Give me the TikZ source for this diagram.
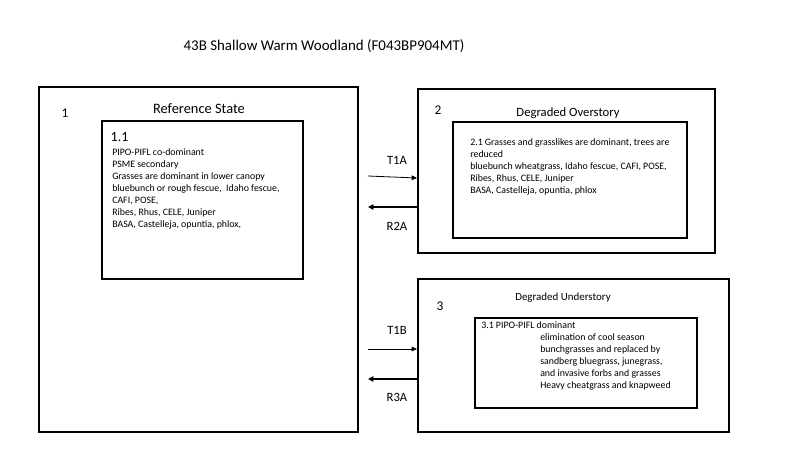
\documentclass[tikz,border=0pt]{standalone}
\usepackage{fontspec}
\setmainfont{Carlito}
\usetikzlibrary{arrows.meta,fit}

\tikzset{
  outerbox/.style={draw, line width=1.5pt, inner sep=0pt},
  innerbox/.style={draw, line width=1.1pt, inner sep=0pt},
  bodytext/.style={anchor=north west, align=left, inner sep=0pt,
    font=\fontsize{7.4}{9}\selectfont},
  fwd/.style={line width=0.6pt, -{Triangle[length=4pt,width=3.5pt]}},
  back/.style={line width=1.4pt, -{Triangle[length=4pt,width=4pt]}},
  arrlabel/.style={font=\fontsize{9.5}{11}\selectfont}
}

\begin{document}
\begin{tikzpicture}[x=0.75pt, y=-0.75pt]
			%%%%% FRAME %%%%%
			\useasboundingbox (0, 0) rectangle (800, 450);
			
			\node[font=\fontsize{11.2}{13}\selectfont] (title) at (324, 46) {43B Shallow Warm Woodland (F043BP904MT)};
			
			%%%%% STATE 1 %%%%%
			\coordinate (s1nw) at (39, 87);
			\coordinate (s1se) at (358, 432);
			\node[outerbox, fit=(s1nw)(s1se)] (s1) {};
			\node[font=\fontsize{10}{12}\selectfont] (s1num) at (65, 113) {1};
			\node[font=\fontsize{10.8}{12}\selectfont] (s1name) at (199, 109) {Reference State};
			
			\coordinate (p11nw) at (102, 121);
			\coordinate (p11se) at (303, 279);
			\node[innerbox, fit=(p11nw)(p11se)] (p11) {};
			\node[font=\fontsize{10.5}{12}\selectfont, anchor=west] (p11num) at (106, 137) {1.1};
			\node[bodytext] (p11text) at (112, 148) {PIPO-PIFL co-dominant\\
				PSME secondary\\
				Grasses are dominant in lower canopy\\
				bluebunch or rough fescue,\ \ Idaho fescue,\\
				CAFI, POSE,\\
				Ribes, Rhus, CELE, Juniper\\
				BASA, Castelleja, opuntia, phlox,};
			
			%%%%% STATE 2 %%%%%
			\coordinate (s2nw) at (418, 89);
			\coordinate (s2se) at (715, 253);
			\node[outerbox, fit=(s2nw)(s2se)] (s2) {};
			\node[font=\fontsize{10}{12}\selectfont] (s2num) at (438, 110) {2};
			\node[font=\fontsize{9.5}{12}\selectfont] (s2name) at (568, 113) {Degraded Overstory};
			
			\coordinate (p21nw) at (453, 122);
			\coordinate (p21se) at (687, 238);
			\node[innerbox, fit=(p21nw)(p21se)] (p21) {};
			\node[bodytext] (p21text) at (470, 138) {2.1 Grasses and grasslikes are dominant, trees are\\
				reduced\\
				bluebunch wheatgrass, Idaho fescue, CAFI, POSE,\\
				Ribes, Rhus, CELE, Juniper\\
				BASA, Castelleja, opuntia, phlox};
			
			%%%%% STATE 3 %%%%%
			\coordinate (s3nw) at (418, 279);
			\coordinate (s3se) at (729, 432);
			\node[outerbox, fit=(s3nw)(s3se)] (s3) {};
			\node[font=\fontsize{10}{12}\selectfont] (s3num) at (440, 306) {3};
			\node[font=\fontsize{8.2}{10}\selectfont] (s3name) at (563, 298) {Degraded Understory};
			
			\coordinate (p31nw) at (475, 318);
			\coordinate (p31se) at (697, 408);
			\node[innerbox, fit=(p31nw)(p31se)] (p31) {};
			\node[bodytext] (p31head) at (481, 321) {3.1 PIPO-PIFL dominant};
			\node[bodytext] (p31text) at (540, 333) {elimination of cool season\\
				bunchgrasses and replaced by\\
				sandberg bluegrass, junegrass,\\
				and invasive forbs and grasses\\
				Heavy cheatgrass and knapweed};
			
			%%%%% TRANSITIONS %%%%%
			\coordinate (t1a) at (368, 176);
			\coordinate (r2a) at (368, 207);
			\coordinate (t1b) at (368, 349);
			\coordinate (r3a) at (368, 379);
			
			\draw[fwd] (t1a) -- (s2.west |- 0, 178);
			\draw[back] (s2.west |- r2a) -- (r2a);
			\draw[fwd] (t1b) -- (s3.west |- t1b);
			\draw[back] (s3.west |- r3a) -- (r3a);
			
			\node[arrlabel] (t1alab) at (397, 160) {T1A};
			\node[arrlabel] (r2alab) at (397, 226) {R2A};
			\node[arrlabel] (t1blab) at (397, 330) {T1B};
			\node[arrlabel] (r3alab) at (397, 397) {R3A};
			
			%%%%% END %%%%%
\end{tikzpicture}
\end{document}
